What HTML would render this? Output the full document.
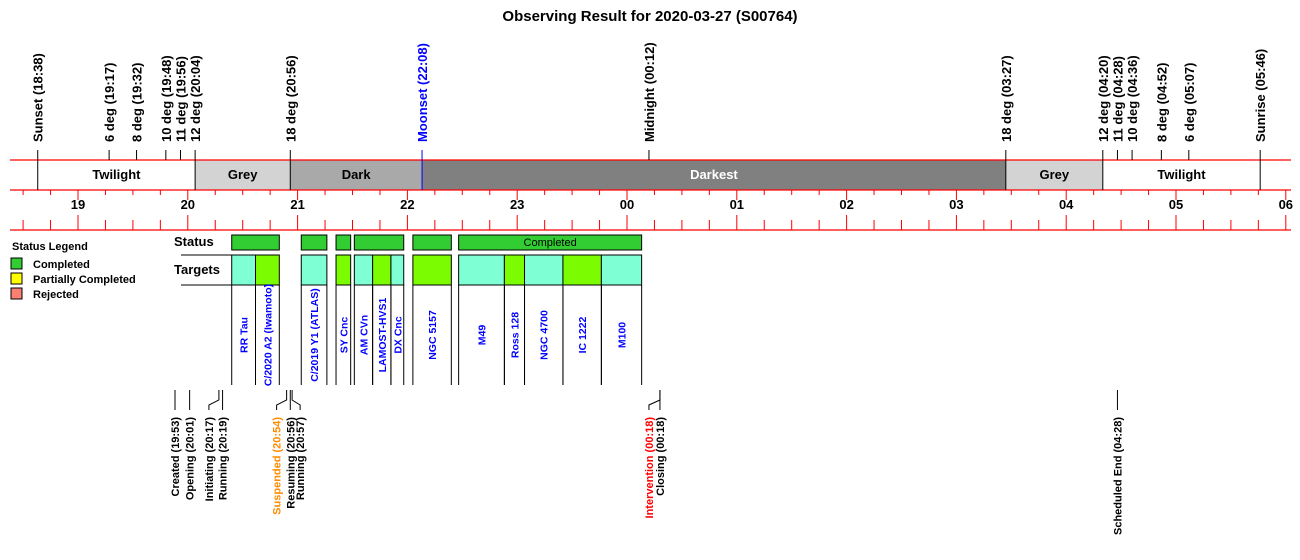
<!DOCTYPE html>
<html><head><meta charset="utf-8"><style>
body{margin:0;background:#fff;}
svg{display:block;font-family:"Liberation Sans",sans-serif;font-weight:bold;}
</style></head><body>
<svg id="chart" width="1300" height="560" viewBox="0 0 1300 560" xmlns="http://www.w3.org/2000/svg">
<text x="650" y="21" text-anchor="middle" font-size="15">Observing Result for 2020-03-27 (S00764)</text>
<g id="g-band"></g><g id="g-axis"></g><g id="g-sun"></g><g id="g-status"></g><g id="g-targets"></g><g id="g-events"></g>
<g>
<text x="12" y="250" font-size="11">Status Legend</text>
<rect x="11" y="258" width="11" height="11" fill="#32cd32" stroke="#000"/><text x="33" y="268" font-size="11">Completed</text>
<rect x="11" y="273" width="11" height="11" fill="#ffff00" stroke="#000"/><text x="33" y="283" font-size="11">Partially Completed</text>
<rect x="11" y="288" width="11" height="11" fill="#fa8072" stroke="#000"/><text x="33" y="298" font-size="11">Rejected</text>
</g>
<text x="174" y="246" font-size="13">Status</text>
<text x="174" y="274" font-size="13">Targets</text>
<line x1="181" y1="255" x2="232" y2="255" stroke="#000"/>
<line x1="181" y1="285" x2="232" y2="285" stroke="#000"/>
</svg>
<script>
const NS="http://www.w3.org/2000/svg";
// ---- data ----
const hourLabels=["19","20","21","22","23","00","01","02","03","04","05","06"];
const phaseNames=["Twilight","Grey","Dark","Darkest","Grey","Twilight"];
const phaseStarts=["18:38","20:04","20:56","22:08","03:27","04:20"];
const phaseEnds=["20:04","20:56","22:08","03:27","04:20","05:46"];
const sunLabels=["Sunset","6 deg","8 deg","10 deg","11 deg","12 deg","18 deg","Moonset","Midnight","18 deg","12 deg","11 deg","10 deg","8 deg","6 deg","Sunrise"];
const sunTimes=["18:38","19:17","19:32","19:48","19:56","20:04","20:56","22:08","00:12","03:27","04:20","04:28","04:36","04:52","05:07","05:46"];
const statusStarts=["20:24","21:02","21:21","21:31","22:03","22:28"];
const statusEnds=["20:50","21:16","21:29","21:58","22:24","00:08"];
const statusText=["","","","","","Completed"];
const targetNames=["RR Tau","C/2020 A2 (Iwamoto)","C/2019 Y1 (ATLAS)","SY Cnc","AM CVn","LAMOST-HVS1","DX Cnc","NGC 5157","M49","Ross 128","NGC 4700","IC 1222","M100"];
const targetStarts=["20:24","20:37","21:02","21:21","21:31","21:41","21:51","22:03","22:28","22:53","23:04","23:25","23:46"];
const targetEnds=["20:37","20:50","21:16","21:29","21:41","21:51","21:58","22:24","22:53","23:04","23:25","23:46","00:08"];
const targetKind=["c","g","c","g","c","g","c","g","c","g","c","g","c"];
const eventNames=["Created","Opening","Initiating","Running","Suspended","Resuming","Running","Intervention","Closing","Scheduled End"];
const eventTimes=["19:53","20:01","20:17","20:19","20:54","20:56","20:57","00:18","00:18","04:28"];
const eventShift=[0,0,-10,0,-10,0,8,-11,0,0];
const eventColor=["#000","#000","#000","#000","#ff8c00","#000","#000","#ff0000","#000","#000"];
// ---- axis ----
const X0=78, PX=109.8;
function hrs(s){let [h,m]=s.split(":").map(Number);if(h<12)h+=24;return h+m/60;}
function x(s){return X0+(hrs(s)-19)*PX;}
function xh(h){return X0+(h-19)*PX;}
function el(tag,attrs,parent,txt){const e=document.createElementNS(NS,tag);for(const k in attrs)e.setAttribute(k,attrs[k]);if(txt!==undefined)e.textContent=txt;parent.appendChild(e);return e;}
const band=document.getElementById("g-band"),axis=document.getElementById("g-axis"),sun=document.getElementById("g-sun");
phaseNames.forEach((n,i)=>{
 const fills={"Twilight":"#ffffff","Grey":"#d3d3d3","Dark":"#a9a9a9","Darkest":"#808080"};
 const x1=x(phaseStarts[i]),x2=x(phaseEnds[i]);
 const r=el("rect",{x:x1,y:160,width:x2-x1,height:30,fill:fills[n]},band);
 
 
 const t=el("text",{x:(x1+x2)/2,y:179,"text-anchor":"middle","font-size":13,fill:n==="Darkest"?"#fff":"#000"},band,n);
 
 
});
[160,190,230].forEach(yy=>{const l=el("line",{x1:10,y1:yy,x2:1291,y2:yy,stroke:"#ff0000","stroke-width":1.3},axis);
 
 });
for(let q=0;q<=46;q++){
 const h=18.5+q*0.25, xx=xh(h), major=Math.abs(h-Math.round(h))<1e-6;
 el("line",{x1:xx,y1:190,x2:xx,y2:major?200:195,stroke:"#ff0000"},axis);
 el("line",{x1:xx,y1:230,x2:xx,y2:major?215:220,stroke:"#ff0000"},axis);
}
hourLabels.forEach((lb,i)=>{const t=el("text",{x:xh(19+i),y:209,"text-anchor":"middle","font-size":13},axis,lb);
 
 });
sunLabels.forEach((n,i)=>{
 const xx=x(sunTimes[i]), c=n==="Moonset"?"#0000ff":"#000";
 const bottom=(i===0||i===15||i===5||i===6||i===7||i===9||i===10)?190:160;
 el("line",{x1:xx,y1:150,x2:xx,y2:bottom,stroke:c},sun);
 const t=el("text",{x:xx+5,y:142,"text-anchor":"start","font-size":13,fill:c,transform:`rotate(-90 ${xx+5} 142)`},sun,n+" ("+sunTimes[i]+")");
 
 
});
const gs=document.getElementById("g-status");
statusStarts.forEach((s,i)=>{
 const x1=x(s),x2=x(statusEnds[i]);
 const r=el("rect",{x:x1,y:235,width:x2-x1,height:15,fill:"#32cd32",stroke:"#000"},gs);
 
 
 if(statusText[i]){const t=el("text",{x:(x1+x2)/2,y:246,"text-anchor":"middle","font-size":11,"font-weight":"normal"},gs,statusText[i]);
  
  }
});
const gt=document.getElementById("g-targets");
targetNames.forEach((n,i)=>{
 const x1=x(targetStarts[i]),x2=x(targetEnds[i]);
 const r=el("rect",{x:x1,y:255,width:x2-x1,height:30,fill:targetKind[i]==="g"?"#7cfc00":"#7fffd4",stroke:"#000"},gt);
 
 
 el("line",{x1:x1,y1:285,x2:x1,y2:385,stroke:"#000"},gt);
 el("line",{x1:x2,y1:285,x2:x2,y2:385,stroke:"#000"},gt);
 const cx=(x1+x2)/2+4;
 const t=el("text",{x:cx,y:335,"text-anchor":"middle","font-size":10.5,fill:"#0000ff",transform:`rotate(-90 ${cx} 335)`},gt,n);
 
 
});
const ge=document.getElementById("g-events");
eventNames.forEach((n,i)=>{
 const xx=x(eventTimes[i]), lx=xx+eventShift[i];
 el("polyline",{points:`${xx},390 ${xx},400 ${lx},405 ${lx},410`,fill:"none",stroke:"#000"},ge);
 const tx=lx+4;
 const t=el("text",{x:tx,y:417,"text-anchor":"end","font-size":11,fill:eventColor[i],transform:`rotate(-90 ${tx} 417)`},ge,n+" ("+eventTimes[i]+")");
 
 
});
</script>
</body></html>
